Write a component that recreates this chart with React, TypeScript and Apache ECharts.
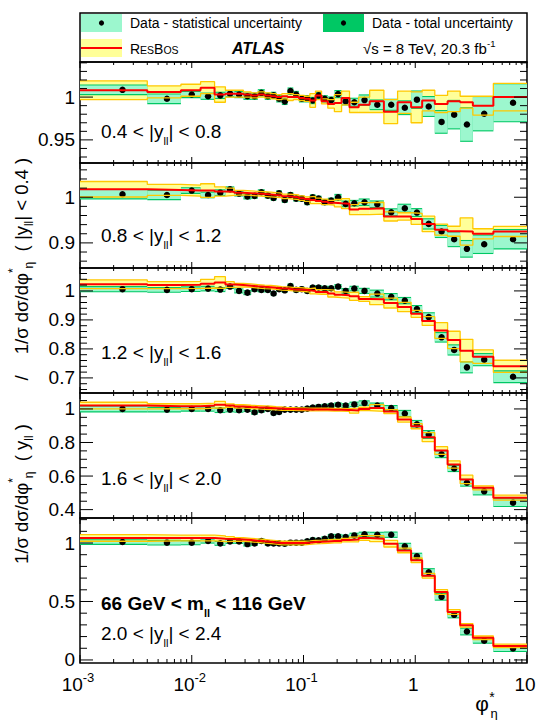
import React, { useEffect, useRef } from 'react';
import * as echarts from 'echarts';

// ---------------- data ----------------
const phiEdges = [0.001, 0.004, 0.008, 0.012, 0.016, 0.020, 0.024, 0.029, 0.034, 0.039, 0.045, 0.051, 0.057, 0.064, 0.072, 0.081, 0.091, 0.102, 0.114, 0.128, 0.145, 0.165, 0.189, 0.219, 0.258, 0.312, 0.391, 0.524, 0.695, 0.918, 1.153, 1.496, 1.947, 2.522, 3.277, 5.0, 10.0];
const phiPoints = [0.0024, 0.006, 0.010, 0.014, 0.018, 0.022, 0.0265, 0.0315, 0.0365, 0.042, 0.048, 0.054, 0.0605, 0.068, 0.0765, 0.086, 0.0965, 0.108, 0.121, 0.1365, 0.155, 0.177, 0.204, 0.2385, 0.285, 0.3515, 0.4575, 0.6095, 0.8065, 1.035, 1.32, 1.72, 2.23, 2.9, 4.14, 7.5];

// 0.4 < |y| < 0.8
const data1 = [1.0085, 0.998, 1.003, 1.001, 1.002, 1.004, 1.003, 1.001, 1.001, 1.005, 1.001, 1.002, 0.998, 0.995, 1.007, 1.003, 0.998, 0.998, 0.996, 1.002, 0.998, 0.9965, 1.0035, 0.995, 0.994, 0.9965, 0.991, 0.991, 0.9876, 0.997, 0.989, 0.971, 0.9795, 0.968, 0.9806, 0.9934];
const stat1 = [0.005, 0.005, 0.003, 0.003, 0.003, 0.003, 0.003, 0.003, 0.003, 0.003, 0.003, 0.003, 0.003, 0.003, 0.003, 0.003, 0.003, 0.003, 0.003, 0.003, 0.003, 0.003, 0.0035, 0.0035, 0.004, 0.0054, 0.005, 0.0058, 0.0074, 0.0095, 0.011, 0.0126, 0.016, 0.019, 0.0194, 0.0215];
const resbos1 = [1.008, 1.006, 1.008, 1.011, 1.003, 1.004, 1.004, 1.003, 1.002, 1.003, 1.002, 1.001, 1.0, 1.001, 1.0, 1.0, 0.999, 0.998, 0.996, 1.002, 0.995, 0.992, 0.993, 0.999, 0.988, 0.991, 0.995, 0.983, 0.994, 0.988, 0.996, 0.992, 0.995, 0.994, 0.990, 1.0];
const resbosErr1 = [0.011, 0.007, 0.007, 0.007, 0.009, 0.004, 0.004, 0.003, 0.003, 0.003, 0.003, 0.003, 0.003, 0.003, 0.004, 0.003, 0.003, 0.003, 0.008, 0.005, 0.003, 0.005, 0.010, 0.008, 0.006, 0.009, 0.013, 0.014, 0.013, 0.018, 0.012, 0.010, 0.012, 0.007, 0.011, 0.016];

// 0.8 < |y| < 1.2
const data2 = [1.0066, 1.005, 1.0146, 1.005, 1.010, 1.0175, 1.008, 1.0015, 1.003, 1.011, 1.0036, 0.9985, 1.0088, 0.994, 1.005, 0.997, 0.997, 0.989, 1.0, 0.997, 0.989, 0.9927, 1.0, 0.9854, 0.9869, 0.989, 0.9847, 0.967, 0.976, 0.9664, 0.9416, 0.925, 0.908, 0.887, 0.897, 0.908];
const stat2 = [0.009, 0.009, 0.005, 0.005, 0.005, 0.004, 0.004, 0.004, 0.004, 0.004, 0.004, 0.004, 0.004, 0.004, 0.004, 0.004, 0.004, 0.004, 0.004, 0.004, 0.004, 0.004, 0.005, 0.005, 0.005, 0.006, 0.006, 0.0065, 0.0075, 0.0075, 0.010, 0.012, 0.015, 0.017, 0.019, 0.020];
const resbos2 = [1.0175, 1.016, 1.0146, 1.0146, 1.0125, 1.012, 1.010, 1.009, 1.008, 1.007, 1.006, 1.005, 1.004, 1.002, 1.001, 1.0, 0.998, 0.996, 0.994, 0.992, 0.990, 0.988, 0.987, 0.986, 0.973, 0.975, 0.976, 0.958, 0.958, 0.9526, 0.9416, 0.929, 0.9255, 0.925, 0.920, 0.925];
const resbosErr2 = [0.017, 0.012, 0.012, 0.015, 0.010, 0.008, 0.005, 0.005, 0.005, 0.005, 0.005, 0.005, 0.005, 0.005, 0.005, 0.005, 0.005, 0.005, 0.008, 0.006, 0.006, 0.005, 0.008, 0.011, 0.011, 0.013, 0.013, 0.010, 0.008, 0.012, 0.017, 0.012, 0.011, 0.030, 0.011, 0.011];

// 1.2 < |y| < 1.6
const data3 = [1.006, 1.0035, 1.006, 1.008, 1.0046, 1.015, 1.0, 0.994, 1.006, 1.0035, 1.0035, 0.991, 1.006, 1.002, 1.017, 1.0035, 1.006, 1.0, 1.0116, 1.0116, 1.009, 1.009, 1.015, 1.0, 1.008, 1.0, 0.9908, 0.980, 0.9665, 0.9376, 0.9098, 0.840, 0.7965, 0.7364, 0.763, 0.704];
const stat3 = [0.007, 0.006, 0.006, 0.006, 0.005, 0.005, 0.005, 0.005, 0.005, 0.005, 0.005, 0.005, 0.005, 0.005, 0.005, 0.005, 0.005, 0.005, 0.005, 0.005, 0.005, 0.005, 0.005, 0.006, 0.006, 0.007, 0.010, 0.009, 0.009, 0.010, 0.013, 0.0145, 0.0156, 0.017, 0.019, 0.0185];
const resbos3 = [1.023, 1.020, 1.021, 1.025, 1.029, 1.022, 1.020, 1.018, 1.016, 1.014, 1.013, 1.011, 1.009, 1.008, 1.006, 1.005, 1.004, 1.002, 1.000, 0.9965, 0.9965, 0.991, 0.987, 0.985, 0.9815, 0.972, 0.971, 0.958, 0.9445, 0.921, 0.896, 0.8636, 0.831, 0.794, 0.7734, 0.740];
const resbosErr3 = [0.015, 0.012, 0.012, 0.015, 0.020, 0.010, 0.006, 0.006, 0.006, 0.006, 0.006, 0.006, 0.006, 0.006, 0.006, 0.006, 0.006, 0.006, 0.010, 0.008, 0.008, 0.012, 0.010, 0.010, 0.014, 0.008, 0.018, 0.017, 0.016, 0.012, 0.015, 0.027, 0.030, 0.039, 0.023, 0.021];

// 1.6 < |y| < 2.0
const data4 = [1.0, 0.996, 1.0, 1.0, 0.992, 0.996, 0.992, 0.996, 0.980, 0.992, 1.0, 0.976, 0.982, 0.996, 0.996, 0.996, 0.996, 1.002, 1.008, 1.012, 1.016, 1.020, 1.025, 1.020, 1.027, 1.035, 1.020, 1.005, 0.973, 0.908, 0.848, 0.730, 0.645, 0.560, 0.509, 0.4416];
const stat4 = [0.014, 0.010, 0.010, 0.010, 0.010, 0.010, 0.008, 0.008, 0.008, 0.008, 0.008, 0.008, 0.008, 0.008, 0.008, 0.008, 0.008, 0.008, 0.008, 0.008, 0.008, 0.008, 0.008, 0.008, 0.010, 0.010, 0.012, 0.012, 0.015, 0.020, 0.020, 0.017, 0.015, 0.017, 0.018, 0.020];
const resbos4 = [1.020, 1.016, 1.016, 1.020, 1.025, 1.020, 1.015, 1.012, 1.010, 1.008, 1.006, 1.004, 1.002, 1.000, 1.000, 0.998, 0.998, 0.997, 0.996, 0.996, 0.996, 0.995, 0.995, 0.994, 0.990, 1.000, 1.006, 0.984, 0.937, 0.897, 0.832, 0.752, 0.669, 0.580, 0.530, 0.471];
const resbosErr4 = [0.020, 0.015, 0.015, 0.015, 0.020, 0.010, 0.010, 0.010, 0.010, 0.010, 0.010, 0.010, 0.010, 0.008, 0.008, 0.008, 0.008, 0.008, 0.008, 0.008, 0.008, 0.008, 0.008, 0.008, 0.015, 0.010, 0.020, 0.012, 0.015, 0.015, 0.027, 0.023, 0.022, 0.025, 0.012, 0.015];

// 2.0 < |y| < 2.4
const data5 = [1.0085, 1.003, 1.003, 1.017, 0.997, 1.014, 1.014, 0.991, 0.997, 1.017, 0.997, 0.997, 0.997, 0.994, 1.003, 1.003, 1.003, 1.014, 1.026, 1.023, 1.037, 1.057, 1.057, 1.051, 1.065, 1.074, 1.071, 1.071, 0.972, 0.887, 0.750, 0.540, 0.386, 0.243, 0.165, 0.098];
const stat5 = [0.015, 0.015, 0.013, 0.013, 0.012, 0.012, 0.012, 0.012, 0.012, 0.012, 0.012, 0.012, 0.012, 0.012, 0.012, 0.012, 0.012, 0.012, 0.012, 0.012, 0.012, 0.012, 0.012, 0.012, 0.014, 0.014, 0.016, 0.018, 0.021, 0.021, 0.026, 0.024, 0.021, 0.024, 0.017, 0.021];
const resbos5 = [1.043, 1.043, 1.043, 1.043, 1.037, 1.035, 1.030, 1.025, 1.020, 1.015, 1.010, 1.005, 1.000, 1.000, 1.000, 1.000, 1.000, 1.003, 1.008, 1.010, 1.013, 1.017, 1.017, 1.025, 1.031, 1.043, 1.037, 0.994, 0.937, 0.852, 0.720, 0.581, 0.410, 0.296, 0.190, 0.120];
const resbosErr5 = [0.028, 0.025, 0.025, 0.025, 0.025, 0.020, 0.015, 0.015, 0.015, 0.015, 0.015, 0.015, 0.015, 0.015, 0.015, 0.015, 0.015, 0.015, 0.015, 0.015, 0.015, 0.015, 0.015, 0.015, 0.020, 0.020, 0.025, 0.028, 0.020, 0.020, 0.020, 0.020, 0.020, 0.015, 0.015, 0.015];

// tick labels
const yMajor1 = [0.95, 1];
const yMajor2 = [0.9, 1];
const yMajor3 = [0.7, 0.8, 0.9, 1];
const yMajor4 = [0.4, 0.6, 0.8, 1];
const yMajor5 = [0, 0.5, 1];
const xMajor = [0.001, 0.01, 0.1, 1, 10];
const xTickLabels = ['10{sup|-3}', '10{sup|-2}', '10{sup|-1}', '1', '10'];

// ---------------- style ----------------
const FONT = '"Liberation Sans", Arial, Helvetica, sans-serif';
const MINT = '#9CF7CE';
const GREEN = '#00C864';
const YELLOW = '#FFFF99';
const GOLD = '#FFC800';
const RED = '#FF0000';

const panels = [
  { top: 62, height: 101, yMin: 0.923, yMax: 1.041, major: yMajor1, minor: [0.93, 1.04, 0.01], data: data1, stat: stat1, rb: resbos1, rbe: resbosErr1 },
  { top: 163, height: 105, yMin: 0.845, yMax: 1.075, major: yMajor2, minor: [0.86, 1.06, 0.02], data: data2, stat: stat2, rb: resbos2, rbe: resbosErr2 },
  { top: 268, height: 125, yMin: 0.648, yMax: 1.079, major: yMajor3, minor: [0.66, 1.06, 0.02], data: data3, stat: stat3, rb: resbos3, rbe: resbosErr3 },
  { top: 393, height: 125, yMin: 0.35, yMax: 1.095, major: yMajor4, minor: [0.4, 1.05, 0.05], data: data4, stat: stat4, rb: resbos4, rbe: resbosErr4 },
  { top: 518, height: 145, yMin: -0.026, yMax: 1.214, major: yMajor5, minor: [0, 1.2, 0.1], data: data5, stat: stat5, rb: resbos5, rbe: resbosErr5 },
];

const subRich = (size: number, lh: number, weight = 'normal') => ({
  sub: { fontSize: size, fontFamily: FONT, fontWeight: weight, verticalAlign: 'bottom', lineHeight: lh, fill: '#000' },
  sup: { fontSize: size, fontFamily: FONT, fontWeight: weight, verticalAlign: 'top', lineHeight: lh, fill: '#000' },
});

function txt(x: number, y: number, text: string, o: any = {}) {
  return {
    type: 'text',
    x,
    y,
    rotation: o.rotation || 0,
    silent: true,
    z: 100,
    style: {
      text,
      fill: '#000',
      fontFamily: FONT,
      fontSize: o.size || 19,
      fontWeight: o.weight || 'normal',
      fontStyle: o.fstyle || 'normal',
      align: o.align || 'left',
      verticalAlign: 'middle',
      textAlign: o.align || 'left',
      textVerticalAlign: 'middle',
      lineHeight: o.lh,
      rich: o.rich,
    },
  };
}

function buildOption() {
  const n = phiPoints.length;
  const grid: any[] = [];
  const xAxis: any[] = [];
  const yAxis: any[] = [];
  const series: any[] = [];

  const rectItem = (fill: string, pad: number) => (params: any, api: any) => {
    const a = api.coord([api.value(0), api.value(3)]);
    const b = api.coord([api.value(1), api.value(2)]);
    return {
      type: 'rect',
      shape: { x: a[0], y: a[1] - pad, width: b[0] - a[0], height: b[1] - a[1] + 2 * pad },
      style: { fill },
    };
  };
  const stepData = (vals: number[]) => phiEdges.map((e, j) => [e, vals[Math.min(j, n - 1)]]);

  panels.forEach((p, i) => {
    const isBottom = i === panels.length - 1;
    grid.push({ left: 80, right: 11, top: p.top, height: p.height, show: true, borderColor: '#000', borderWidth: 1.5, backgroundColor: 'transparent' });
    xAxis.push({ type: 'log', logBase: 10, gridIndex: i, min: 0.001, max: 10, axisLine: { show: false }, axisTick: { show: false }, axisLabel: { show: false }, splitLine: { show: false } });
    yAxis.push({ type: 'value', gridIndex: i, min: p.yMin, max: p.yMax, axisLine: { show: false }, axisTick: { show: false }, axisLabel: { show: false }, splitLine: { show: false } });

    const rbHi = p.rb.map((v, j) => v + p.rbe[j]);
    const rbLo = p.rb.map((v, j) => v - p.rbe[j]);
    const dHi = p.data.map((v, j) => v + p.stat[j]);
    const dLo = p.data.map((v, j) => v - p.stat[j]);
    const common = { xAxisIndex: i, yAxisIndex: i, silent: true, animation: false };

    series.push({
      ...common, type: 'custom', clip: true,
      encode: { x: [0, 1], y: [2, 3] },
      data: rbLo.map((l, j) => [phiEdges[j], phiEdges[j + 1], l, rbHi[j]]),
      renderItem: rectItem(YELLOW, 0),
    });
    series.push({ ...common, type: 'line', step: 'end', showSymbol: false, symbol: 'none', data: stepData(rbHi), lineStyle: { color: GOLD, width: 1.3 } });
    series.push({ ...common, type: 'line', step: 'end', showSymbol: false, symbol: 'none', data: stepData(rbLo), lineStyle: { color: GOLD, width: 1.3 } });
    series.push({ ...common, type: 'line', step: 'end', showSymbol: false, symbol: 'none', data: stepData(p.rb), lineStyle: { color: RED, width: 2 } });
    const bandItems = dLo.map((l, j) => [phiEdges[j], phiEdges[j + 1], l, dHi[j]]);
    series.push({ ...common, type: 'custom', clip: true, encode: { x: [0, 1], y: [2, 3] }, data: bandItems, renderItem: rectItem(GREEN, 1.1) });
    series.push({ ...common, type: 'custom', clip: true, encode: { x: [0, 1], y: [2, 3] }, data: bandItems, renderItem: rectItem(MINT, 0) });
    series.push({ ...common, type: 'scatter', symbol: 'circle', symbolSize: 6.5, itemStyle: { color: '#000', opacity: 1 }, data: phiPoints.map((x, j) => [x, p.data[j]]) });

    // ticks
    const yMid = (p.yMin + p.yMax) / 2;
    const tickItems: number[][] = [];
    xMajor.forEach((x, k) => tickItems.push([x, yMid, 0, k]));
    for (let e = -3; e < 1; e++) {
      for (let d = 2; d <= 9; d++) tickItems.push([d * Math.pow(10, e), yMid, 1, -1]);
    }
    p.major.forEach((v, k) => tickItems.push([0.01, v, 2, k]));
    const [m0, m1, ms] = p.minor;
    for (let v = m0; v <= m1 + 1e-9; v += ms) {
      const vv = Math.round(v * 1000) / 1000;
      if (!p.major.some((m) => Math.abs(m - vv) < 1e-6)) tickItems.push([0.01, vv, 3, -1]);
    }
    const majors = p.major;
    series.push({
      ...common, type: 'custom', clip: false, z: 10,
      encode: { x: 0, y: 1 },
      data: tickItems,
      renderItem: (params: any, api: any) => {
        const cs = params.coordSys;
        const kind = api.value(2);
        const idx = api.value(3);
        const pt = api.coord([api.value(0), api.value(1)]);
        const L = cs.x, R = cs.x + cs.width, T = cs.y, B = cs.y + cs.height;
        const st = { stroke: '#000', lineWidth: 1 };
        const children: any[] = [];
        if (kind < 2) {
          const lenTop = kind === 0 ? 6 : 3;
          const lenBot = isBottom ? (kind === 0 ? 8 : 4) : lenTop;
          children.push({ type: 'line', shape: { x1: pt[0], y1: T, x2: pt[0], y2: T + lenTop }, style: st });
          children.push({ type: 'line', shape: { x1: pt[0], y1: B - lenBot, x2: pt[0], y2: B }, style: st });
          if (isBottom && kind === 0) {
            children.push({
              type: 'text',
              style: {
                text: xTickLabels[idx], x: pt[0] - 2, y: B + 21, fill: '#000', fontFamily: FONT, fontSize: 19,
                align: 'center', verticalAlign: 'middle', textAlign: 'center', textVerticalAlign: 'middle', lineHeight: 26,
                rich: { sup: { fontSize: 13, fontFamily: FONT, verticalAlign: 'top', lineHeight: 13, fill: '#000' } },
              },
            });
          }
        } else {
          const len = kind === 2 ? 13 : 7;
          children.push({ type: 'line', shape: { x1: L, y1: pt[1], x2: L + len, y2: pt[1] }, style: st });
          children.push({ type: 'line', shape: { x1: R - len, y1: pt[1], x2: R, y2: pt[1] }, style: st });
          if (kind === 2) {
            children.push({
              type: 'text',
              style: {
                text: String(majors[idx]), x: L - 5, y: pt[1], fill: '#000', fontFamily: FONT, fontSize: 19,
                align: 'right', verticalAlign: 'middle', textAlign: 'right', textVerticalAlign: 'middle',
              },
            });
          }
        }
        return { type: 'group', children };
      },
    });
  });

  const r19 = subRich(11, 10);
  const graphic: any[] = [
    // legend box
    { type: 'rect', shape: { x: 80, y: 13, width: 447, height: 49 }, style: { fill: 'none', stroke: '#000', lineWidth: 1.5 }, z: 100, silent: true },
    { type: 'rect', shape: { x: 81, y: 14, width: 41, height: 18 }, style: { fill: MINT }, z: 100, silent: true },
    { type: 'circle', shape: { cx: 101.5, cy: 23, r: 2.6 }, style: { fill: '#000' }, z: 101, silent: true },
    { type: 'rect', shape: { x: 323, y: 14, width: 41, height: 18 }, style: { fill: GREEN }, z: 100, silent: true },
    { type: 'circle', shape: { cx: 343.5, cy: 23, r: 2.6 }, style: { fill: '#000' }, z: 101, silent: true },
    { type: 'rect', shape: { x: 81, y: 39, width: 41, height: 18 }, style: { fill: YELLOW }, z: 100, silent: true },
    { type: 'line', shape: { x1: 81, y1: 48, x2: 122, y2: 48 }, style: { stroke: RED, lineWidth: 2 }, z: 101, silent: true },
    txt(130, 23, 'Data - statistical uncertainty', { size: 14 }),
    txt(372, 23, 'Data - total uncertainty', { size: 14 }),
    txt(130, 48, '{a|R}{b|ES}{a|B}{b|OS}', {
      size: 14, lh: 16,
      rich: {
        a: { fontSize: 14, fontFamily: FONT, verticalAlign: 'bottom', lineHeight: 15, fill: '#000' },
        b: { fontSize: 10.5, fontFamily: FONT, verticalAlign: 'bottom', lineHeight: 12.5, fill: '#000' },
      },
    }),
    txt(232, 48, 'ATLAS', { size: 16, weight: 'bold', fstyle: 'italic' }),
    txt(363, 48, '√s = 8 TeV, 20.3 fb{sup|-1}', { size: 15, lh: 20, rich: { sup: { fontSize: 9.5, fontFamily: FONT, verticalAlign: 'top', lineHeight: 10, fill: '#000' } } }),
    // panel labels
    txt(101, 131, '0.4 < |y{sub|ll}| < 0.8', { size: 19, lh: 30, rich: r19 }),
    txt(101, 235, '0.8 < |y{sub|ll}| < 1.2', { size: 19, lh: 30, rich: r19 }),
    txt(101, 352, '1.2 < |y{sub|ll}| < 1.6', { size: 19, lh: 30, rich: r19 }),
    txt(101, 478, '1.6 < |y{sub|ll}| < 2.0', { size: 19, lh: 30, rich: r19 }),
    txt(101, 603, '66 GeV < m{sub|ll} < 116 GeV', { size: 19, weight: 'bold', lh: 30, rich: subRich(11, 10, 'bold') }),
    txt(101, 633, '2.0 < |y{sub|ll}| < 2.4', { size: 19, lh: 30, rich: r19 }),
    // x axis title
    txt(482, 703, 'φ', { size: 21, align: 'center' }),
    txt(492, 697, '*', { size: 14, align: 'center' }),
    txt(494, 713, 'η', { size: 13, align: 'center' }),
    // y axis title (rotated)
    txt(21, 494, '1/σ dσ/dφ{sup|*}{sub|η}  ( y{sub|ll} )', { size: 18.5, lh: 28, rotation: Math.PI / 2, align: 'center', rich: subRich(12, 12) }),
    txt(21, 378, '/', { size: 18.5, lh: 28, rotation: Math.PI / 2, align: 'center' }),
    txt(21, 256, '1/σ dσ/dφ{sup|*}{sub|η}  ( |y{sub|ll}| < 0.4 )', { size: 18.5, lh: 28, rotation: Math.PI / 2, align: 'center', rich: subRich(12, 12) }),
  ];

  return { animation: false, backgroundColor: '#fff', grid, xAxis, yAxis, series, graphic };
}

export default function App() {
  const ref = useRef<HTMLDivElement>(null);
  useEffect(() => {
    const chart = echarts.init(ref.current as HTMLDivElement, null, { renderer: 'svg' });
    chart.setOption(buildOption() as any);
    return () => chart.dispose();
  }, []);
  return <div ref={ref} style={{ position: 'fixed', left: 0, top: 0, width: 538, height: 720 }} />;
}
